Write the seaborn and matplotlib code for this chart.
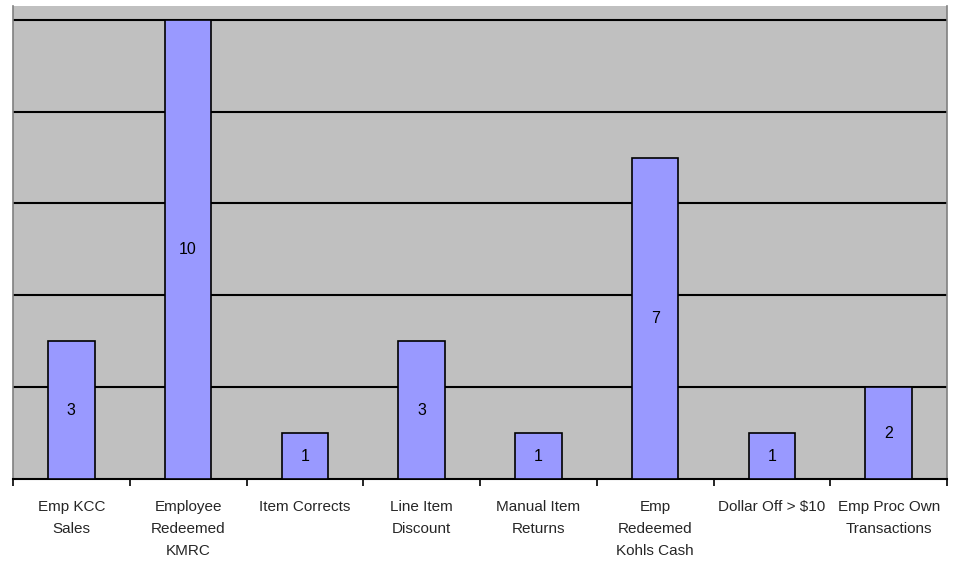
import matplotlib
matplotlib.use("Agg")
import matplotlib.pyplot as plt
import seaborn as sns
import pandas as pd
import numpy as np

categories = ["Emp KCC\nSales", "Employee\nRedeemed\nKMRC", "Item Corrects", "Line Item\nDiscount",
              "Manual Item\nReturns", "Emp\nRedeemed\nKohls Cash", "Dollar Off > $10", "Emp Proc Own\nTransactions"]
values = [3, 10, 1, 3, 1, 7, 1, 2]

df = pd.DataFrame({"cat": categories, "val": values})

sns.set_theme(style="white")
plt.rcParams['font.family'] = ['Liberation Sans', 'DejaVu Sans']

fig = plt.figure(figsize=(9.6, 5.61), dpi=100)
ax = fig.add_axes([13/960, (561-479)/561, (947-13)/960, (479-6)/561])
ax.set_facecolor("#C0C0C0")

sns.barplot(data=df, x="cat", y="val", color="#9999FF", edgecolor="black",
            linewidth=1.2, width=0.4, saturation=1, ax=ax, zorder=3)

ax.set_ylim(0, 10.3)
ax.set_xlim(-0.5, len(categories) - 0.5)
ax.set_yticks([2, 4, 6, 8, 10])
ax.yaxis.grid(True, color="black", linewidth=1.5, zorder=1)
ax.set_axisbelow(True)
ax.tick_params(axis="y", left=False, labelleft=False)
ax.set_xlabel("")
ax.set_ylabel("")

ax.set_xticks(np.arange(len(categories)))
ax.set_xticklabels(categories, fontsize=11, linespacing=1.72, va="top")
ax.tick_params(axis="x", which="major", length=0, pad=15)
ax.set_xticks(np.arange(-0.5, len(categories), 1.0), minor=True)
ax.tick_params(axis="x", which="minor", length=5, width=1.2, color="black", direction="out", bottom=True)

ax.spines["top"].set_visible(False)
ax.spines["bottom"].set_color("black")
ax.spines["bottom"].set_linewidth(1.5)
ax.spines["left"].set_color("#808080")
ax.spines["right"].set_color("#808080")
ax.spines["left"].set_linewidth(1.2)
ax.spines["right"].set_linewidth(1.2)

for c in ax.containers:
    for rect, v in zip(c, values):
        ax.text(rect.get_x() + rect.get_width() / 2, rect.get_height() / 2, str(v),
                ha="center", va="center", fontsize=11.5, color="black", zorder=4)

fig.savefig("out.png", dpi=100, facecolor="white")
